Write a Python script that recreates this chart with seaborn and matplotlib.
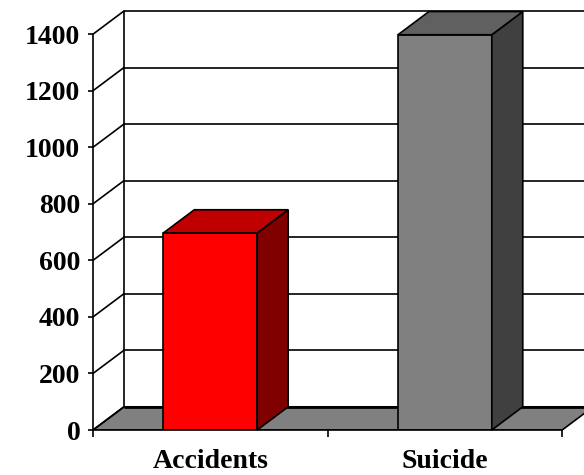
import matplotlib
matplotlib.use("Agg")
import matplotlib.pyplot as plt
from matplotlib.patches import Polygon
import seaborn as sns

# Data
categories = ["Accidents", "Suicide"]
values = [697, 1398]
y_ticks = [0, 200, 400, 600, 800, 1000, 1200, 1400]

# Face colours per bar: front, top, side
front_colors = ["#FF0000", "#808080"]
top_colors = ["#C00000", "#606060"]
side_colors = ["#800000", "#404040"]

sns.set_style("white")
plt.rcParams["font.family"] = ["Liberation Serif", "DejaVu Serif"]
plt.rcParams["font.weight"] = "bold"
plt.rcParams["font.size"] = 20
plt.rcParams["text.color"] = "black"
plt.rcParams["xtick.color"] = "black"
plt.rcParams["ytick.color"] = "black"
plt.rcParams["xtick.labelcolor"] = "black"
plt.rcParams["ytick.labelcolor"] = "black"

W, H, DPI = 584, 475, 100
fig = plt.figure(figsize=(W / DPI, H / DPI), dpi=DPI)
ax = fig.add_axes([93 / W, 45 / H, (W - 93) / W, 419 / H])

# 3-D depth offset in data units
DX = 0.132
DY = 82
X0, X1 = -0.5, 1.5
YMAX = y_ticks[-1]
XLIM = (X0, 1.593)
LW = 1.2

sns.barplot(x=categories, y=values, hue=categories, palette=front_colors,
            width=0.4, edgecolor="black", linewidth=LW, legend=False,
            saturation=1, ax=ax, zorder=4)

# Floor
floor = Polygon([(X0, 0), (X1, 0), (X1 + DX, DY), (X0 + DX, DY)],
                closed=True, facecolor="#808080", edgecolor="black",
                linewidth=LW, zorder=2)
ax.add_patch(floor)
ax.plot([X0 + DX, XLIM[1]], [DY, DY], color="black", lw=2.0, zorder=2.5,
        solid_capstyle="butt")

# Back wall gridlines and side-wall diagonals
for v in y_ticks[1:]:
    ax.plot([X0 + DX, XLIM[1]], [v + DY, v + DY], color="black", lw=LW,
            zorder=1, clip_on=False)
for v in y_ticks:
    ax.plot([X0, X0 + DX], [v, v + DY], color="black", lw=LW, zorder=2.6)
ax.plot([X0 + DX, X0 + DX], [DY, YMAX + DY], color="black", lw=LW, zorder=1,
        clip_on=False)

# Top and side faces built from each drawn bar
for patch, tc, sc in zip(ax.patches[:len(values)], top_colors, side_colors):
    x, w, h = patch.get_x(), patch.get_width(), patch.get_height()
    top = Polygon([(x, h), (x + w, h), (x + w + DX, h + DY), (x + DX, h + DY)],
                  closed=True, facecolor=tc, edgecolor="black", linewidth=LW,
                  zorder=4, clip_on=False)
    side = Polygon([(x + w, 0), (x + w + DX, DY), (x + w + DX, h + DY), (x + w, h)],
                   closed=True, facecolor=sc, edgecolor="black", linewidth=LW,
                   zorder=4, clip_on=False)
    ax.add_patch(side)
    ax.add_patch(top)

ax.set_xlim(*XLIM)
ax.set_ylim(0, YMAX + DY)

for s in ["top", "right"]:
    ax.spines[s].set_visible(False)
ax.spines["left"].set_bounds(0, YMAX)
ax.spines["bottom"].set_bounds(X0, X1)
for s in ["left", "bottom"]:
    ax.spines[s].set_linewidth(LW)
    ax.spines[s].set_color("black")
    ax.spines[s].set_zorder(5)

ax.set_yticks(y_ticks)
ax.set_yticklabels([str(t) for t in y_ticks])
ax.tick_params(axis="y", direction="out", length=3.6, width=LW, pad=5.5,
               left=True, labelsize=20, colors="black")
ax.set_xticks([0, 1])
ax.set_xticklabels(categories)
ax.set_xticks([X0, 0.5, X1], minor=True)
ax.tick_params(axis="x", which="major", length=0, pad=14, labelsize=20,
               colors="black")
ax.tick_params(axis="x", which="minor", direction="out", length=5,
               width=LW, bottom=True, colors="black")
ax.set_xlabel("")
ax.set_ylabel("")
for lbl in ax.get_xticklabels() + ax.get_yticklabels():
    lbl.set_fontweight("bold")

fig.savefig("out.png", dpi=DPI)
